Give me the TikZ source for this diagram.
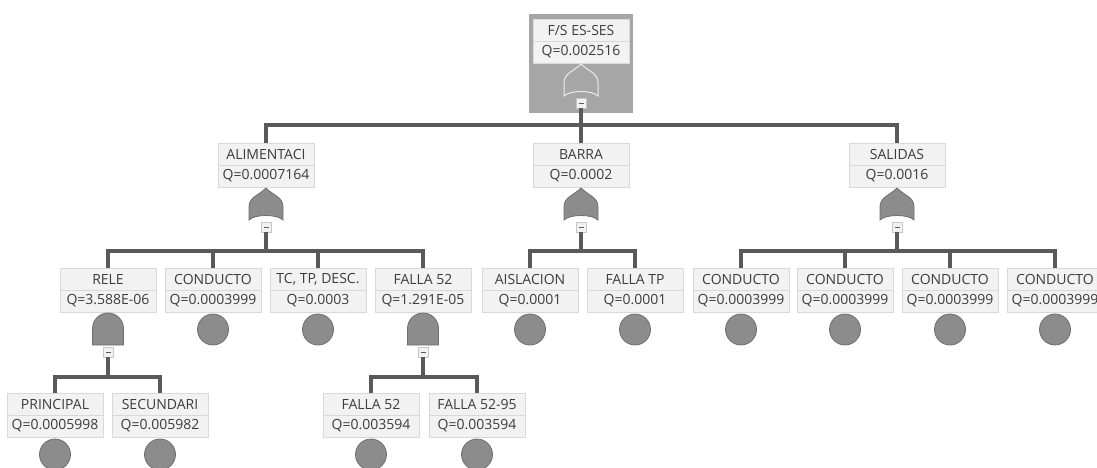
\documentclass[tikz,border=0pt]{standalone}
\usepackage{fontspec}
\setmainfont{Open Sans}
\usepackage{tikz}
\usetikzlibrary{positioning,calc,fit,backgrounds}

\definecolor{selbg}{HTML}{A6A6A6}
\definecolor{gatefill}{HTML}{8C8C8C}
\definecolor{gateline}{HTML}{6E6E6E}
\definecolor{boxfill}{HTML}{F2F2F2}
\definecolor{boxline}{HTML}{D9D9D9}
\definecolor{linkcol}{HTML}{5A5A5A}
\definecolor{txt}{HTML}{3C3C3C}

% gate symbols, tip at #2
\newcommand{\orgate}[2][]{%
  \draw[gate,#1] ($(#2)+(-17,32)$) -- ++(0,-13)
    .. controls +(0,-10) and +(-8,8) .. (#2)
    .. controls +(8,8) and +(0,-10) .. ($(#2)+(17,19)$) -- ++(0,13)
    .. controls +(-6,-6) and +(6,-6) .. cycle;}
\newcommand{\andgate}[1]{%
  \draw[gate] ($(#1)+(-15.5,32)$) -- ++(0,-16.5)
    arc[start angle=180, end angle=0, radius=15.5pt] -- ++(0,16.5) -- cycle;}

\begin{document}
\begin{tikzpicture}[
    x=1pt, y=-1pt,
    font=\fontsize{14}{16}\selectfont,
    evt/.style={draw=boxline, fill=boxfill, text=txt,
                minimum width=96pt, minimum height=22pt,
                inner sep=0pt, outer sep=0pt},
    basic/.style={circle, draw=gateline, fill=gatefill, line width=0.8pt,
                  minimum size=31pt, inner sep=0pt, outer sep=0pt},
    gate/.style={draw=gateline, fill=gatefill, line width=0.8pt},
    topgate/.style={draw=white!85!gray, fill=selbg, line width=1pt},
    tog/.style={draw=boxline!80!gray, fill=boxfill, minimum size=10pt,
                inner sep=0pt, outer sep=0pt,
                path picture={\draw[linkcol, line width=1pt]
                  ([xshift=-2.5pt]path picture bounding box.center) --
                  ([xshift=2.5pt]path picture bounding box.center);}},
    link/.style={draw=linkcol, line width=3.2pt},
    selbox/.style={fill=selbg, inner xsep=4pt, inner ysep=5pt}
  ]

  \useasboundingbox (0,0) rectangle (1097,467);

  % top event
  \node[evt] (top) at (581,30) {F/S ES-SES};
  \node[evt, below=0pt of top] (topQ) {Q=0.002516};
  \coordinate[below=1pt of topQ] (topG);
  \node[tog, below=34pt of topG] (topT) {};
  \begin{scope}[on background layer]
    \fill[white] (0,0) rectangle (1097,467);
    \node[selbox, fit=(top)(topT)] (topSel) {};
  \end{scope}
  \orgate[topgate]{topG}

  % second level
  \node[evt] (ali) at (266,154) {ALIMENTACI};
  \node[evt, below=0pt of ali] (aliQ) {Q=0.0007164};
  \node[evt] (bar) at (581,154) {BARRA};
  \node[evt, below=0pt of bar] (barQ) {Q=0.0002};
  \node[evt] (sal) at (897,154) {SALIDAS};
  \node[evt, below=0pt of sal] (salQ) {Q=0.0016};

  \coordinate[below=1pt of aliQ] (aliG);
  \coordinate[below=1pt of barQ] (barG);
  \coordinate[below=1pt of salQ] (salG);
  \orgate{aliG}
  \orgate{barG}
  \orgate{salG}
  \node[tog, below=34pt of aliG] (aliT) {};
  \node[tog, below=34pt of barG] (barT) {};
  \node[tog, below=34pt of salG] (salT) {};

  % third level
  \node[evt] (rele) at (108,279) {RELE};
  \node[evt, below=0pt of rele] (releQ) {Q=3.588E-06};
  \node[evt] (cond) at (213,279) {CONDUCTO};
  \node[evt, below=0pt of cond] (condQ) {Q=0.0003999};
  \node[evt] (tc) at (318,279) {TC, TP, DESC.};
  \node[evt, below=0pt of tc] (tcQ) {Q=0.0003};
  \node[evt] (f52) at (423,279) {FALLA 52};
  \node[evt, below=0pt of f52] (f52Q) {Q=1.291E-05};

  \node[evt] (ais) at (530,279) {AISLACION};
  \node[evt, below=0pt of ais] (aisQ) {Q=0.0001};
  \node[evt] (ftp) at (635,279) {FALLA TP};
  \node[evt, below=0pt of ftp] (ftpQ) {Q=0.0001};

  \foreach \i/\x in {1/741, 2/845, 3/950, 4/1055} {
    \node[evt] (sc\i) at (\x,279) {CONDUCTO};
    \node[evt, below=0pt of sc\i] (sc\i Q) {Q=0.0003999};
    \node[basic, below=2pt of sc\i Q] (sc\i B) {};
  }

  \node[basic, below=2pt of condQ] (condB) {};
  \node[basic, below=2pt of tcQ] (tcB) {};
  \node[basic, below=2pt of aisQ] (aisB) {};
  \node[basic, below=2pt of ftpQ] (ftpB) {};

  \coordinate[below=1pt of releQ] (releG);
  \coordinate[below=1pt of f52Q] (f52G);
  \andgate{releG}
  \andgate{f52G}
  \node[tog, below=34pt of releG] (releT) {};
  \node[tog, below=34pt of f52G] (f52T) {};

  % fourth level
  \node[evt] (prin) at (55,404) {PRINCIPAL};
  \node[evt, below=0pt of prin] (prinQ) {Q=0.0005998};
  \node[evt] (sec) at (160,404) {SECUNDARI};
  \node[evt, below=0pt of sec] (secQ) {Q=0.005982};
  \node[evt] (f52a) at (371,404) {FALLA 52};
  \node[evt, below=0pt of f52a] (f52aQ) {Q=0.003594};
  \node[evt] (f52b) at (477,404) {FALLA 52-95};
  \node[evt, below=0pt of f52b] (f52bQ) {Q=0.003594};
  \node[basic, below=2pt of prinQ] (prinB) {};
  \node[basic, below=2pt of secQ] (secB) {};
  \node[basic, below=2pt of f52aQ] (f52aB) {};
  \node[basic, below=2pt of f52bQ] (f52bB) {};

  % tree connectors
  \coordinate (topBus) at (581,125);
  \coordinate (aliBus) at (266,251);
  \coordinate (barBus) at (581,251);
  \coordinate (salBus) at (897,251);
  \coordinate (releBus) at (108,377);
  \coordinate (f52Bus) at (423,377);

  \foreach \c in {ali, bar, sal}
    \draw[link] (topT.south) -- (topBus) -| (\c.north);
  \foreach \c in {rele, cond, tc, f52}
    \draw[link] (aliT.south) -- (aliBus) -| (\c.north);
  \foreach \c in {ais, ftp}
    \draw[link] (barT.south) -- (barBus) -| (\c.north);
  \foreach \c in {sc1, sc2, sc3, sc4}
    \draw[link] (salT.south) -- (salBus) -| (\c.north);
  \foreach \c in {prin, sec}
    \draw[link] (releT.south) -- (releBus) -| (\c.north);
  \foreach \c in {f52a, f52b}
    \draw[link] (f52T.south) -- (f52Bus) -| (\c.north);

\end{tikzpicture}
\end{document}
